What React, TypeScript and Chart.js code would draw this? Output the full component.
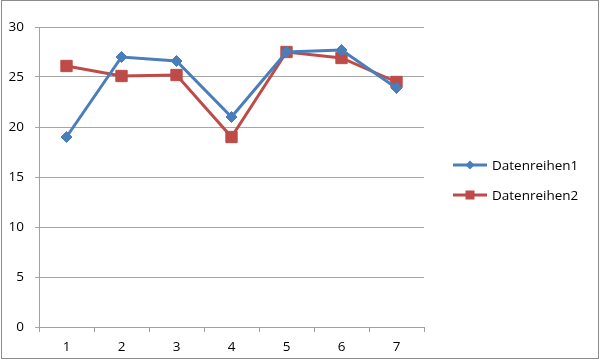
import React, { useEffect, useRef } from "react";
import { Chart, registerables } from "chart.js";

Chart.register(...registerables);

const categories = ["1", "2", "3", "4", "5", "6", "7"];
const series1Name = "Datenreihen1";
const series2Name = "Datenreihen2";
const series1 = [19.0, 27.0, 26.6, 21.0, 27.5, 27.7, 23.9];
const series2 = [26.1, 25.1, 25.2, 19.0, 27.5, 26.9, 24.5];
const yTicks = [0, 5, 10, 15, 20, 25, 30];

const BLUE = "#4A7EBB";
const RED = "#BE4B48";
const FONT = "'Open Sans'";

const frameAndLegend = {
  id: "frameAndLegend",
  afterDraw(chart: any) {
    const ctx = chart.ctx;
    ctx.save();
    ctx.strokeStyle = "#8c8c8c";
    ctx.lineWidth = 1;
    ctx.strokeRect(1.5, 0.5, 597, 358);
    const items = [
      { name: series1Name, color: BLUE, style: "diamond", y: 165 },
      { name: series2Name, color: RED, style: "square", y: 195 },
    ];
    const x0 = 453;
    const x1 = 487;
    for (const it of items) {
      ctx.strokeStyle = it.color;
      ctx.lineWidth = 3;
      ctx.beginPath();
      ctx.moveTo(x0, it.y);
      ctx.lineTo(x1, it.y);
      ctx.stroke();
      ctx.fillStyle = it.color;
      const cx = (x0 + x1) / 2;
      ctx.beginPath();
      if (it.style === "diamond") {
        ctx.moveTo(cx, it.y - 4.5);
        ctx.lineTo(cx + 4.5, it.y);
        ctx.lineTo(cx, it.y + 4.5);
        ctx.lineTo(cx - 4.5, it.y);
        ctx.closePath();
      } else {
        ctx.rect(cx - 4.5, it.y - 4.5, 9, 9);
      }
      ctx.fill();
      ctx.fillStyle = "#000";
      ctx.font = `13.5px ${FONT}`;
      ctx.textBaseline = "middle";
      ctx.textAlign = "left";
      ctx.fillText(it.name, 492, it.y + 1);
    }
    ctx.restore();
  },
};

export default function App() {
  const ref = useRef<HTMLCanvasElement | null>(null);
  useEffect(() => {
    document.body.style.margin = "0";
    const c = new Chart(ref.current as HTMLCanvasElement, {
      type: "line",
      data: {
        labels: categories,
        datasets: [
          {
            label: series1Name,
            data: series1,
            borderColor: BLUE,
            backgroundColor: BLUE,
            borderWidth: 3,
            pointStyle: "rectRot",
            pointRadius: 5.5,
            pointBorderWidth: 1,
            pointBackgroundColor: BLUE,
            pointBorderColor: BLUE,
            tension: 0,
          },
          {
            label: series2Name,
            data: series2,
            borderColor: RED,
            backgroundColor: RED,
            borderWidth: 3,
            pointStyle: "rect",
            pointRadius: 8,
            pointBorderWidth: 1,
            pointBackgroundColor: RED,
            pointBorderColor: RED,
            tension: 0,
          },
        ],
      },
      options: {
        animation: false,
        responsive: false,
        maintainAspectRatio: false,
        layout: { padding: { left: 0, top: 27, right: 176, bottom: 0 } },
        plugins: {
          legend: { display: false },
          tooltip: { enabled: false },
        },
        scales: {
          x: {
            offset: true,
            grid: {
              offset: true,
              drawOnChartArea: false,
              drawTicks: true,
              tickLength: 5,
              color: "#a0a0a0",
            },
            border: { display: true, color: "#a0a0a0", width: 1 },
            ticks: { color: "#000", font: { family: FONT, size: 13.5 }, padding: 7 },
            afterFit: (s: any) => {
              s.height = 33;
            },
          },
          y: {
            min: 0,
            max: 30,
            afterBuildTicks: (s: any) => {
              s.ticks = yTicks.map((v) => ({ value: v }));
            },
            grid: { color: "#a6a6a6", tickLength: 4, drawTicks: true },
            border: { display: true, color: "#a0a0a0", width: 1 },
            ticks: { color: "#000", font: { family: FONT, size: 13.5 }, padding: 11 },
            afterFit: (s: any) => {
              s.width = 39;
            },
          },
        },
      },
      plugins: [frameAndLegend],
    });
    return () => c.destroy();
  }, []);
  return (
    <div style={{ width: 600, height: 360 }}>
      <canvas ref={ref} width={600} height={360} style={{ display: "block" }} />
    </div>
  );
}
